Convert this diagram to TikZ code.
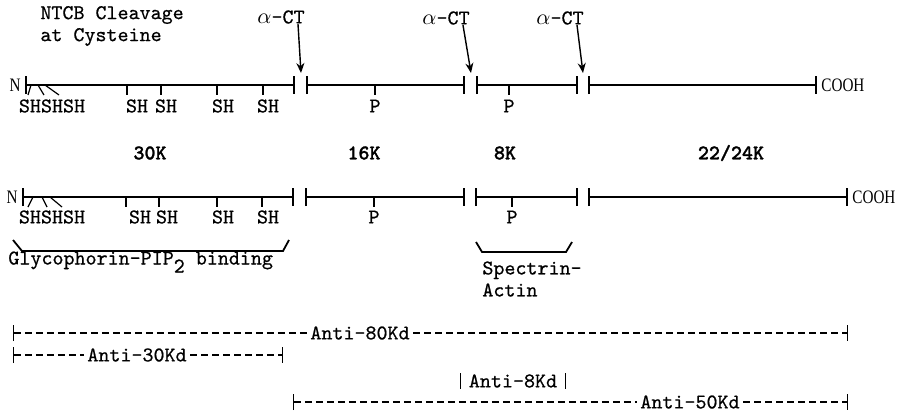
\documentclass[tikz,border=0pt]{standalone}
\usepackage{fontspec}
\newfontfamily\typefont{lmmono10-regular.otf}[FakeBold=0.6]
\newfontfamily\sizefont{lmmonolt10-bold.otf}[FakeBold=1.2]
\newfontfamily\termfont{Liberation Serif}[FakeStretch=0.8]
\usepackage{tikz}
\usetikzlibrary{arrows.meta, positioning}

\begin{document}
\begin{tikzpicture}[
    x=0.5pt, y=-0.5pt,
    seg/.style={{Bar[width=9pt]}-{Bar[width=9pt]}, line width=1pt},
    tick/.style={line width=0.6pt},
    lbl/.style={font=\typefont\fontsize{10.5}{11}\selectfont, inner sep=0pt},
    size/.style={font=\sizefont\fontsize{10.5}{11}\selectfont, inner sep=0pt},
    term/.style={font=\termfont\fontsize{9.5}{11}\selectfont, inner sep=1pt},
    cut/.style={-{Stealth[length=5pt, width=4pt]}, line width=0.7pt},
    brace/.style={line width=0.9pt},
    anti/.style={line width=0.6pt, dash pattern=on 3.5pt off 2pt},
    abar/.style={line width=0.6pt},
    node distance=0pt
]
    \useasboundingbox (0,0) rectangle (905,413);

    % Title
    \node[lbl, align=left, anchor=west] (ntcb) at (40,26) {NTCB Cleavage\\at Cysteine};

    % Cleavage sites
    \node[lbl] (ct1) at (281,17) {$\alpha$-CT};
    \node[lbl] (ct2) at (446,18) {$\alpha$-CT};
    \node[lbl] (ct3) at (560,18) {$\alpha$-CT};
    \coordinate (gap1) at (301,73);
    \coordinate (gap2) at (471,73);
    \coordinate (gap3) at (583,73);
    \draw[cut] ([xshift=8.5pt]ct1.south) -- (gap1);
    \draw[cut] ([xshift=8.5pt]ct2.south) -- (gap2);
    \draw[cut] ([xshift=8.5pt]ct3.south) -- (gap3);

    % Top chain
    \coordinate (a1) at (25,85);  \coordinate (a2) at (295,85);
    \coordinate (b1) at (306,85); \coordinate (b2) at (465,85);
    \coordinate (c1) at (476,85); \coordinate (c2) at (578,85);
    \coordinate (d1) at (588,85); \coordinate (d2) at (817,85);
    \draw[seg] (a1) -- (a2);
    \draw[seg] (b1) -- (b2);
    \draw[seg] (c1) -- (c2);
    \draw[seg] (d1) -- (d2);
    \node[term, left=1pt of a1] (nterm1) {N};
    \node[term, right=1pt of d2] (cterm1) {COOH};

    % Top chain: SH and P sites
    \draw[tick] (31,85) -- (28,95);
    \draw[tick] (38,85) -- (44,95);
    \draw[tick] (45,85) -- (59,95);
    \draw[tick] (127,85) -- (127,95);
    \draw[tick] (161,85) -- (161,95);
    \draw[tick] (217,85) -- (217,95);
    \draw[tick] (263,85) -- (263,95);
    \draw[tick] (375,85) -- (375,95);
    \draw[tick] (509,85) -- (509,95);
    \node[lbl] (sh0a) at (52,106) {SHSHSH};
    \node[lbl] (sh1a) at (137,106) {SH};
    \node[lbl] (sh2a) at (166,106) {SH};
    \node[lbl] (sh3a) at (223,106) {SH};
    \node[lbl] (sh4a) at (268,106) {SH};
    \node[lbl] (p1a) at (375,106) {P};
    \node[lbl] (p2a) at (509,106) {P};

    % Fragment sizes
    \node[size] (k30) at (150,153) {30K};
    \node[size] (k16) at (364,153) {16K};
    \node[size] (k8) at (505,153) {8K};
    \node[size] (k22) at (731,153) {22/24K};

    % Bottom chain
    \coordinate (e1) at (22,197);  \coordinate (e2) at (294,197);
    \coordinate (f1) at (305,197); \coordinate (f2) at (465,197);
    \coordinate (g1) at (475,197); \coordinate (g2) at (578,197);
    \coordinate (h1) at (588,197); \coordinate (h2) at (848,197);
    \draw[seg] (e1) -- (e2);
    \draw[seg] (f1) -- (f2);
    \draw[seg] (g1) -- (g2);
    \draw[seg] (h1) -- (h2);
    \node[term, left=1pt of e1] (nterm2) {N};
    \node[term, right=1pt of h2] (cterm2) {COOH};

    % Bottom chain: SH and P sites
    \draw[tick] (33,197) -- (28,207);
    \draw[tick] (42,197) -- (47,207);
    \draw[tick] (50,197) -- (62,207);
    \draw[tick] (126,197) -- (126,207);
    \draw[tick] (159,197) -- (159,207);
    \draw[tick] (217,197) -- (217,207);
    \draw[tick] (262,197) -- (262,207);
    \draw[tick] (374,197) -- (374,207);
    \draw[tick] (512,197) -- (512,207);
    \node[lbl] (sh0b) at (52,217) {SHSHSH};
    \node[lbl] (sh1b) at (140,217) {SH};
    \node[lbl] (sh2b) at (167,217) {SH};
    \node[lbl] (sh3b) at (223,217) {SH};
    \node[lbl] (sh4b) at (268,217) {SH};
    \node[lbl] (p1b) at (374,217) {P};
    \node[lbl] (p2b) at (512,217) {P};

    % Binding domains
    \draw[brace] (13,240) -- (22,251) -- (283,251) -- (289,240);
    \node[lbl, anchor=west] (glyco) at (8,262) {Glycophorin-PIP\raisebox{-4pt}{2} binding};
    \draw[brace] (476,242) -- (482,252) -- (566,252) -- (572,242);
    \node[lbl, align=left, anchor=west] (spec) at (482,279) {Spectrin-\\Actin};

    % Antibodies
    \coordinate (r80l) at (13,333); \coordinate (r80r) at (848,333);
    \node[lbl, inner xsep=1.5pt] (anti80) at (360,333) {Anti-80Kd};
    \draw[anti, {Bar[width=8pt]}-] (r80l) -- (anti80);
    \draw[anti, -{Bar[width=8pt]}] (anti80) -- (r80r);

    \coordinate (r30l) at (13,355); \coordinate (r30r) at (283,355);
    \node[lbl, inner xsep=1.5pt] (anti30) at (137,355) {Anti-30Kd};
    \draw[anti, {Bar[width=8pt]}-] (r30l) -- (anti30);
    \draw[anti, -{Bar[width=8pt]}] (anti30) -- (r30r);

    \node[lbl, inner xsep=4pt] (anti8) at (513,381) {Anti-8Kd};
    \draw[abar] ([yshift=4pt]anti8.west) -- ([yshift=-4pt]anti8.west);
    \draw[abar] ([yshift=4pt]anti8.east) -- ([yshift=-4pt]anti8.east);

    \coordinate (r50l) at (293,402); \coordinate (r50r) at (848,402);
    \node[lbl, inner xsep=1.5pt] (anti50) at (690,402) {Anti-50Kd};
    \draw[anti, {Bar[width=8pt]}-] (r50l) -- (anti50);
    \draw[anti, -{Bar[width=8pt]}] (anti50) -- (r50r);

\end{tikzpicture}
\end{document}
